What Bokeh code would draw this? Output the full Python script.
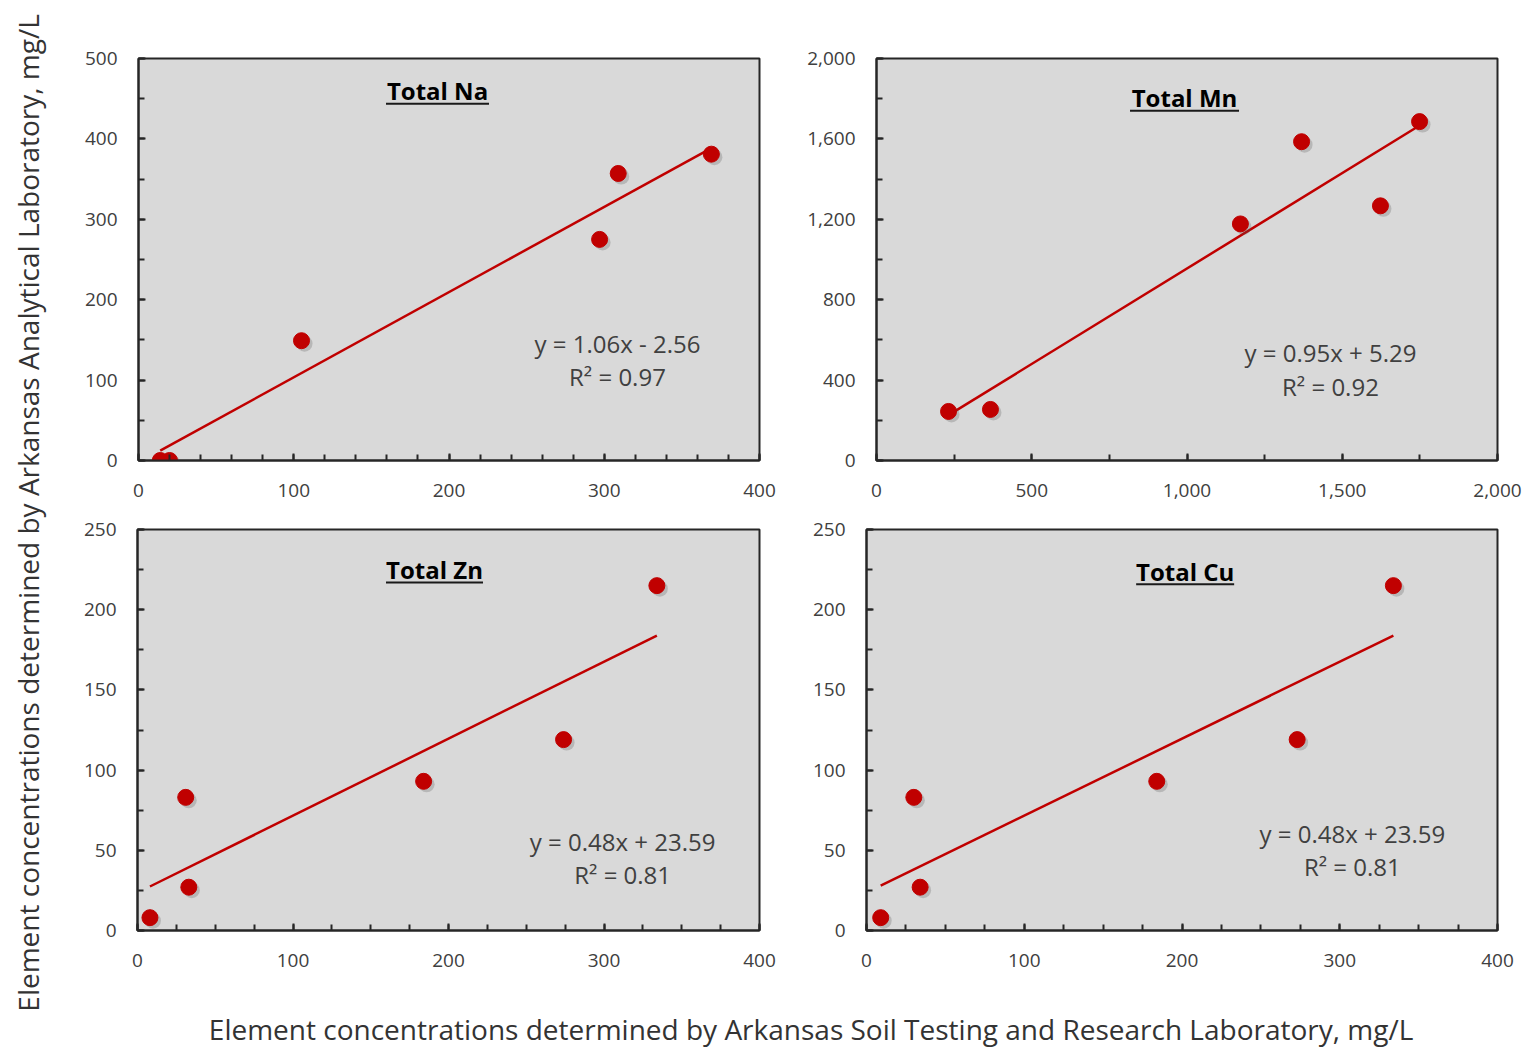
import math
from bokeh.plotting import figure
from bokeh.layouts import row, column
from bokeh.models import Range1d, SingleIntervalTicker, NumeralTickFormatter, Label
from bokeh.embed import file_html
from bokeh.resources import INLINE

# ---------------- data ----------------
na_x = [14, 20, 105, 297, 309, 369]
na_y = [0, 0, 149, 275, 357, 381]
na_slope, na_icept = 1.06, -2.56
na_eq = ["y = 1.06x - 2.56", "R² = 0.97"]

mn_x = [232, 367, 1172, 1369, 1623, 1749]
mn_y = [244, 254, 1177, 1586, 1267, 1686]
mn_slope, mn_icept = 0.95, 5.29
mn_eq = ["y = 0.95x + 5.29", "R² = 0.92"]

zn_x = [8, 31, 33, 184, 274, 334]
zn_y = [8, 83, 27, 93, 119, 215]
zn_slope, zn_icept = 0.48, 23.59
zn_eq = ["y = 0.48x + 23.59", "R² = 0.81"]

cu_x = [9, 30, 34, 184, 273, 334]
cu_y = [8, 83, 27, 93, 119, 215]
cu_slope, cu_icept = 0.48, 23.59
cu_eq = ["y = 0.48x + 23.59", "R² = 0.81"]

y_title = "Element concentrations determined by Arkansas Analytical Laboratory, mg/L"
x_title = "Element concentrations determined by Arkansas Soil Testing and Research Laboratory, mg/L"

FONT = "Open Sans"
RED = "#C00000"
TXT = "#404040"


def panel(title, xs, ys, slope, icept, eq, xmax, ymax, xstep, xminor, ystep, yminor,
          fw, fh, bl, br, bt, bb, title_pos, title_w, eq_pos, comma=False):
    p = figure(frame_width=fw, frame_height=fh, min_border_left=bl, min_border_right=br,
               min_border_top=bt, min_border_bottom=bb, output_backend="svg",
               toolbar_location=None, x_range=Range1d(0, xmax), y_range=Range1d(0, ymax))
    p.background_fill_color = "#D9D9D9"
    p.border_fill_color = "white"
    p.outline_line_color = "#262626"
    p.outline_line_width = 2
    p.grid.visible = False
    p.xaxis.ticker = SingleIntervalTicker(interval=xstep, num_minor_ticks=xminor)
    p.yaxis.ticker = SingleIntervalTicker(interval=ystep, num_minor_ticks=yminor)
    if comma:
        p.xaxis.formatter = NumeralTickFormatter(format="0,0")
        p.yaxis.formatter = NumeralTickFormatter(format="0,0")
    for ax in (p.xaxis[0], p.yaxis[0]):
        ax.axis_line_color = "#262626"
        ax.axis_line_width = 2
        ax.major_tick_in = 7
        ax.major_tick_out = 0
        ax.minor_tick_in = 6
        ax.minor_tick_out = 0
        ax.major_tick_line_color = "#262626"
        ax.minor_tick_line_color = "#262626"
        ax.major_tick_line_width = 2
        ax.minor_tick_line_width = 2
        ax.major_label_text_font = FONT
        ax.major_label_text_font_size = "19px"
        ax.major_label_text_color = TXT
    p.xaxis.major_label_standoff = 23
    p.yaxis.major_label_standoff = 21

    # trend line
    x0, x1 = min(xs), max(xs)
    p.line([x0, x1], [slope * x0 + icept, slope * x1 + icept], line_color=RED, line_width=2.5)
    # shadow + points
    dx = 3 * xmax / fw
    dy = -3 * ymax / fh
    p.scatter([x + dx for x in xs], [y + dy for y in ys], size=16, fill_color="#555555",
              fill_alpha=0.25, line_color=None)
    p.scatter(xs, ys, size=16, fill_color=RED, line_color=RED)

    # title with underline
    tx, ty = title_pos
    p.add_layout(Label(x=tx, y=ty, text=title, text_font=FONT, text_font_style="bold",
                       text_font_size="24px", text_color="black", text_align="center",
                       text_baseline="middle"))
    uy = ty - 13 * ymax / fh
    hw = title_w / 2 * xmax / fw
    p.segment(x0=[tx - hw], y0=[uy], x1=[tx + hw], y1=[uy], line_color="#1a1a1a", line_width=2)

    ex, ey1, ey2 = eq_pos
    for txt, yy in zip(eq, (ey1, ey2)):
        p.add_layout(Label(x=ex, y=yy, text=txt, text_font=FONT, text_font_size="24px",
                           text_color=TXT, text_align="center", text_baseline="middle"))
    return p


p_na = panel("Total Na", na_x, na_y, na_slope, na_icept, na_eq, 400, 500, 100, 5, 100, 2,
             621, 402, 78, 41, 58, 50, (192.6, 460), 103, (308.5, 145, 104))
p_mn = panel("Total Mn", mn_x, mn_y, mn_slope, mn_icept, mn_eq, 2000, 2000, 500, 2, 400, 2,
             621, 402, 76, 29, 58, 50, (992, 1805), 109, (1462, 539, 369), comma=True)
p_zn = panel("Total Zn", zn_x, zn_y, zn_slope, zn_icept, zn_eq, 400, 250, 100, 4, 50, 2,
             622, 401, 77, 41, 19, 60, (191, 225), 97, (312, 55.5, 34.9))
p_cu = panel("Total Cu", cu_x, cu_y, cu_slope, cu_icept, cu_eq, 400, 250, 100, 4, 50, 2,
             631, 401, 66, 29, 19, 60, (202, 224), 98, (308, 60.5, 39.9))


def blank(w, h):
    f = figure(width=w, height=h, output_backend="svg", toolbar_location=None,
               x_range=Range1d(0, 1), y_range=Range1d(0, 1), min_border=0)
    f.axis.visible = False
    f.grid.visible = False
    f.outline_line_color = None
    f.background_fill_color = "white"
    f.border_fill_color = "white"
    return f


yt = blank(60, 1050)
yt.add_layout(Label(x=0.45, y=0.512, text=y_title, angle=math.pi / 2, text_font=FONT,
                    text_font_size="28px", text_color="#333333", text_align="center",
                    text_baseline="middle"))
xt = blank(1466, 60)
xt.add_layout(Label(x=0.512, y=0.36, text=x_title, text_font=FONT, text_font_size="28px",
                    text_color="#333333", text_align="center", text_baseline="middle"))

layout = row(yt, column(row(p_na, p_mn), row(p_zn, p_cu), xt))

open("out.html", "w").write(file_html(layout, INLINE))
